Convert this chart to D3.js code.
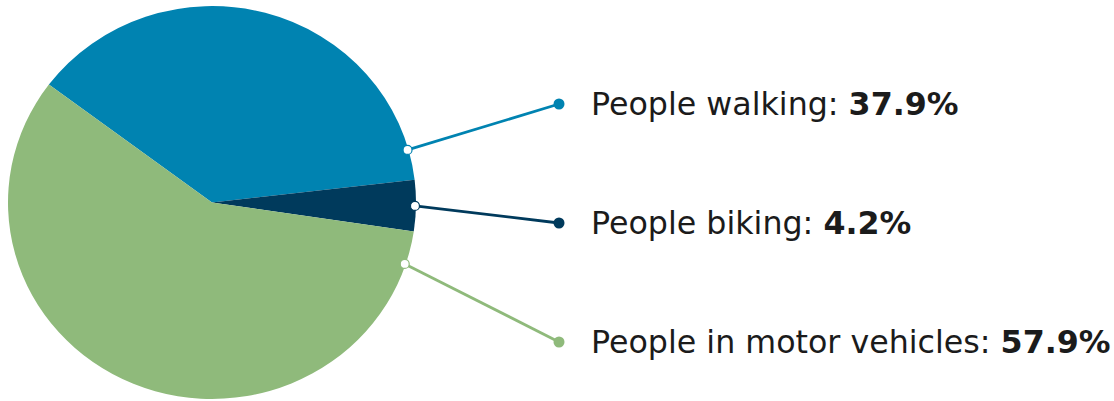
<!DOCTYPE html>
<html>
<head>
<meta charset="utf-8">
<script src="https://cdn.jsdelivr.net/npm/d3@7"></script>
<style>
  body { margin: 0; background: #fff; }
  svg text { font-family: "DejaVu Sans", "Open Sans", sans-serif; fill: #1b1b1b; }
</style>
</head>
<body>
<svg id="chart" width="1114" height="401"></svg>
<script>
// data
var labels = ["People walking", "People biking", "People in motor vehicles"]
var values = [37.9, 4.2, 57.9]
var colors = ["#0083b1", "#003a5c", "#8fba7b"]
// where each leader line touches the pie (degrees, clockwise from 12 o'clock)
var anchorAngles = [74.4, 91, 108.3]

const width = 1114, height = 401
const cx = 212, cy = 202.5, radius = 204
const squash = 0.963   // the original pie is a little flattened

const svg = d3.select('#chart')

const pie = d3.pie()
  .sort(null)
  .startAngle(-53.1 * Math.PI / 180)
  .endAngle((360 - 53.1) * Math.PI / 180)
  .value(d => d)

const arc = d3.arc().innerRadius(0).outerRadius(radius)

const arcs = pie(values)

const g = svg.append('g').attr('transform', `translate(${cx},${cy}) scale(1,${squash})`)

g.selectAll('path')
  .data(arcs)
  .enter()
  .append('path')
  .attr('d', arc)
  .attr('fill', (d, i) => colors[i])

// label rows, evenly placed on the right
const rowY = d3.scalePoint()
  .domain(labels)
  .range([104, 342])

const dotX = 559
const textX = 591

labels.forEach(function(name, i) {
  var a = anchorAngles[i] * Math.PI / 180
  var ax = cx + (radius - 1) * Math.sin(a)
  var ay = cy - (radius - 1) * Math.cos(a) * squash
  var y = rowY(name)

  svg.append('line')
    .attr('x1', ax).attr('y1', ay)
    .attr('x2', dotX).attr('y2', y)
    .attr('stroke', colors[i])
    .attr('stroke-width', 2.8)

  svg.append('circle')
    .attr('cx', ax).attr('cy', ay)
    .attr('r', 4.5)
    .attr('fill', '#fff')
    .attr('stroke', colors[i])
    .attr('stroke-width', 1.2)

  svg.append('circle')
    .attr('cx', dotX).attr('cy', y)
    .attr('r', 5.5)
    .attr('fill', colors[i])

  var t = svg.append('text')
    .attr('x', textX)
    .attr('y', y)
    .attr('dy', '0.34em')
    .style('font-size', '31.7px')
  t.append('tspan').text(name + ': ')
  t.append('tspan').style('font-weight', 'bold').text(values[i] + '%')
})
</script>
</body>
</html>
